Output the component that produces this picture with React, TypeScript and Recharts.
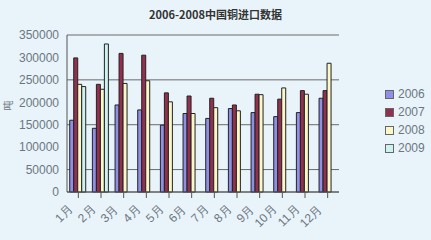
import { BarChart, Bar, XAxis, YAxis, CartesianGrid, Legend } from 'recharts';

const months = ['1月', '2月', '3月', '4月', '5月', '6月', '7月', '8月', '9月', '10月', '11月', '12月'];
const y2006 = [160000, 142000, 194000, 183000, 149000, 175000, 164000, 186000, 177000, 168000, 177000, 209000];
const y2007 = [299000, 240000, 309000, 305000, 221000, 214000, 209000, 194000, 218000, 207000, 226000, 226000];
const y2008 = [240000, 229000, 242000, 248000, 201000, 175000, 188000, 181000, 217000, 232000, 218000, 287000];
const y2009 = [235000, 330000, null, null, null, null, null, null, null, null, null, null];
const yTicks = [0, 50000, 100000, 150000, 200000, 250000, 300000, 350000];

const series = [
  { key: 'y2006', name: '2006', color: '#8f8fe8' },
  { key: 'y2007', name: '2007', color: '#93304f' },
  { key: 'y2008', name: '2008', color: '#fbf7c8' },
  { key: 'y2009', name: '2009', color: '#cdf3f0' },
];

const data = months.map((m, i) => ({
  month: m,
  y2006: y2006[i],
  y2007: y2007[i],
  y2008: y2008[i],
  y2009: y2009[i],
}));

const MonthTick = (props: any) => {
  const { x, y, payload } = props;
  return (
    <text
      x={x - 5}
      y={y + 10}
      textAnchor="end"
      fontSize={12}
      fill="#6b7680"
      transform={`rotate(-45, ${x - 5}, ${y + 10})`}
    >
      {payload.value}
    </text>
  );
};

const LegendBox = () => (
  <div style={{ fontFamily: 'Arial, sans-serif', fontSize: 12, color: '#6b7680' }}>
    {series.map((s) => (
      <div key={s.key} style={{ display: 'flex', alignItems: 'center', height: 18 }}>
        <span
          style={{
            width: 7,
            height: 7,
            background: s.color,
            border: '1px solid #666',
            marginRight: 4,
            display: 'inline-block',
          }}
        />
        {s.name}
      </div>
    ))}
  </div>
);

export default function App() {
  return (
    <div style={{ position: 'absolute', left: 0, top: 0, width: 431, height: 240, background: '#e9f4fa' }}>
      <div
        style={{
          position: 'absolute',
          top: 6,
          width: 431,
          textAlign: 'center',
          fontFamily: '"Noto Sans CJK SC", serif',
          fontWeight: 'bold',
          fontSize: 11,
          color: '#333',
        }}
      >
        2006-2008中国铜进口数据
      </div>
      <div
        style={{
          position: 'absolute',
          left: 2,
          top: 98,
          fontSize: 10,
          color: '#6b7680',
          fontFamily: '"Noto Sans CJK SC", sans-serif',
          transform: 'rotate(-90deg)',
        }}
      >
        吨
      </div>
      <BarChart
        width={431}
        height={240}
        data={data}
        margin={{ top: 35, right: 48, left: 0, bottom: 0 }}
        barCategoryGap="12%"
        barGap={0}
        style={{ fontFamily: 'Arial, sans-serif' }}
      >
        <CartesianGrid vertical={false} stroke="#6a6a6a" />
        <XAxis
          dataKey="month"
          height={48}
          tick={<MonthTick />}
          tickLine={{ stroke: '#555' }}
          axisLine={{ stroke: '#555' }}
          interval={0}
        />
        <YAxis
          width={67}
          domain={[0, 350000]}
          ticks={yTicks}
          tick={{ fontSize: 12, fill: '#6b7680' }}
          tickLine={false}
          axisLine={{ stroke: '#555' }}
        />
        <Legend
          layout="vertical"
          verticalAlign="top"
          align="right"
          wrapperStyle={{ top: 85, right: 2, width: 44 }}
          content={<LegendBox />}
        />
        {series.map((s) => (
          <Bar
            key={s.key}
            dataKey={s.key}
            name={s.name}
            fill={s.color}
            stroke="#222"
            strokeWidth={1}
            isAnimationActive={false}
          />
        ))}
      </BarChart>
    </div>
  );
}
